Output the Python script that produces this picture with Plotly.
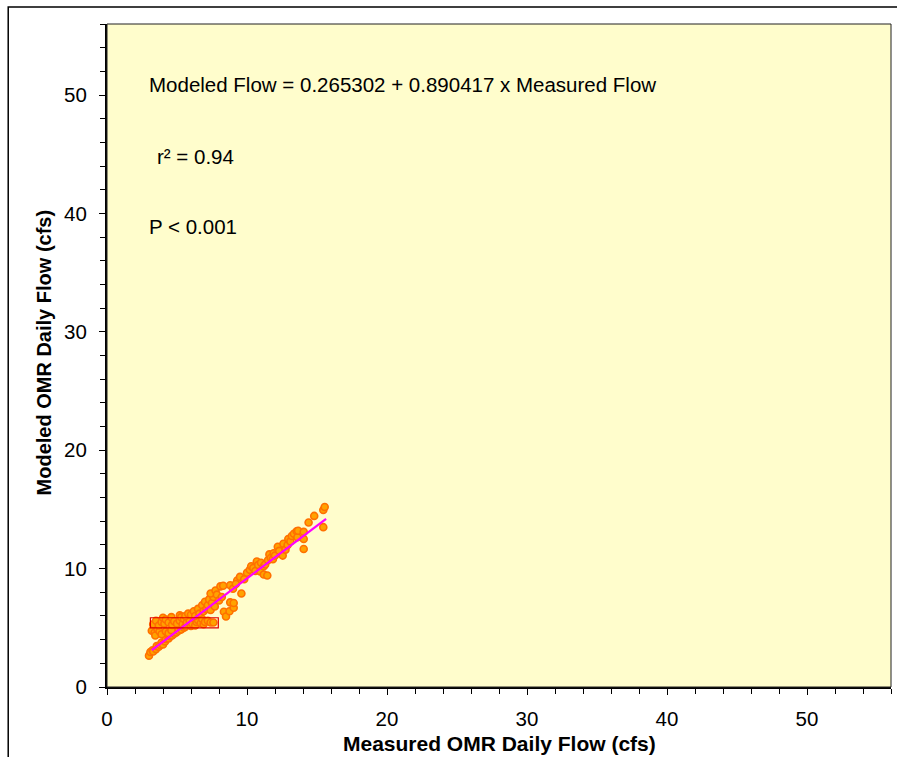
import plotly.graph_objects as go

# Measured vs modeled OMR daily flow (cfs)
measured = [
    3.0, 3.1, 3.25, 3.3, 3.5, 3.55, 3.7, 3.8, 3.9, 4.0, 4.15, 4.2, 4.4, 4.5, 4.65, 4.8, 4.95, 5.1, 5.3, 5.5,
    3.2, 3.4, 3.45, 3.6, 3.75, 3.9, 4.2, 4.4, 4.6,
    3.3, 3.5, 3.7, 3.9, 4.0, 4.1, 4.2, 4.4, 4.6, 4.65, 4.8, 5.0, 5.2, 5.2, 5.3, 5.4, 5.5, 5.6, 5.7, 5.9, 6.0,
    6.1, 6.2, 6.3, 6.4, 6.5, 6.7, 6.8, 6.9, 7.0, 7.2, 7.4, 7.6,
    5.6, 5.8, 6.0, 6.2, 6.3, 6.5, 6.6, 6.8, 6.9, 7.0, 7.1, 7.2, 7.3, 7.4, 7.5, 7.6, 7.7, 7.4, 7.75, 7.85,
    8.0, 8.1, 8.2, 8.3, 8.35, 8.5, 8.75, 8.8, 8.8, 9.05, 9.05, 9.0, 9.3, 9.5, 9.6, 9.2, 9.8,
    10.0, 10.2, 10.3, 10.45, 10.6, 10.7, 10.8, 10.95, 11.0, 11.2, 11.2, 11.3, 11.45, 11.5, 11.6, 11.7, 11.85, 11.9, 12.0,
    12.2, 12.3, 12.55, 12.6, 12.75, 12.9, 12.95, 13.1, 13.2, 13.35, 13.55, 13.6, 13.65, 14.05, 14.05, 14.05, 14.4,
    14.8, 15.45, 15.45, 15.55,
]
modeled = [
    2.65, 2.95, 3.1, 3.0, 3.2, 3.45, 3.4, 3.55, 3.75, 3.6, 3.85, 4.05, 4.1, 4.3, 4.35, 4.5, 4.6, 4.75, 4.85, 5.0,
    4.75, 4.6, 4.35, 4.9, 4.7, 4.45, 4.7, 4.55, 4.8,
    5.3, 5.6, 5.2, 5.5, 5.85, 5.35, 5.7, 5.45, 5.9, 5.25, 5.55, 5.35, 6.05, 5.6, 5.9, 5.3, 5.75, 5.1, 5.45, 5.6, 5.15,
    5.35, 5.8, 5.2, 5.5, 5.65, 5.4, 5.75, 5.3, 5.5, 5.6, 5.45, 5.45,
    6.0, 6.2, 6.1, 6.4, 6.0, 6.6, 6.2, 6.9, 6.4, 7.2, 6.6, 6.9, 7.4, 6.5, 7.1, 7.6, 6.8, 7.9, 8.15, 7.8,
    7.3, 8.5, 7.6, 8.55, 6.35, 5.95, 6.4, 7.15, 8.6, 6.7, 7.1, 8.3, 9.0, 9.3, 7.9, 8.7, 9.1,
    9.65, 9.9, 10.2, 10.05, 9.8, 10.6, 10.3, 9.75, 10.5, 10.2, 9.5, 10.35, 9.42, 10.7, 11.2, 10.9, 10.8, 11.3, 11.1,
    11.85, 11.5, 11.1, 12.1, 11.6, 12.0, 12.5, 12.3, 12.75, 12.95, 13.15, 12.65, 13.2, 13.1, 12.5, 11.65, 13.9,
    14.45, 13.5, 14.95, 15.2,
]

# Regression fit shown on chart
intercept = 0.265302
slope = 0.890417
fit_x = [3.2, 15.65]
fit_y = [intercept + slope * v for v in fit_x]

# Highlight box (data units)
box_x = [3.1, 7.95]
box_y = [5.0, 5.85]

tick_vals = [0, 10, 20, 30, 40, 50]
tick_text = ["0", "10", "20", "30", "40", "50"]

font_family = "Liberation Sans, Arial, sans-serif"

fig = go.Figure()
fig.add_trace(go.Scatter(
    x=measured, y=modeled, mode="markers",
    marker=dict(size=7, color="#FFA200", line=dict(color="#FF7000", width=1.6)),
    showlegend=False, hoverinfo="x+y",
))
fig.add_trace(go.Scatter(
    x=fit_x, y=fit_y, mode="lines",
    line=dict(color="#FF00FF", width=2.2),
    showlegend=False,
))

fig.add_shape(type="rect", xref="x", yref="y",
              x0=box_x[0], x1=box_x[1], y0=box_y[0], y1=box_y[1],
              line=dict(color="#E00000", width=1.2), fillcolor="rgba(0,0,0,0)")

# plot-area frame (top/right)
fig.add_shape(type="rect", xref="x domain", yref="y domain", x0=0, x1=1, y0=0, y1=1,
              line=dict(color="#202020", width=1), layer="above")
# outer figure frame
fig.add_shape(type="rect", xref="paper", yref="paper",
              x0=-0.126, x1=1.2, y0=-0.3, y1=1.0256,
              line=dict(color="black", width=1.5))

ann_font = dict(family=font_family, size=20.5, color="black")
fig.add_annotation(x=2.88, y=50.85, xref="x", yref="y", text="Modeled Flow = 0.265302 + 0.890417 x Measured Flow",
                   showarrow=False, xanchor="left", yanchor="middle", font=ann_font)
fig.add_annotation(x=3.45, y=44.85, xref="x", yref="y", text="r² = 0.94",
                   showarrow=False, xanchor="left", yanchor="middle", font=ann_font)
fig.add_annotation(x=2.88, y=38.9, xref="x", yref="y", text="P < 0.001",
                   showarrow=False, xanchor="left", yanchor="middle", font=ann_font)

# axis titles
fig.add_annotation(x=0.5, y=-0.085, xref="paper", yref="paper",
                   text="<b>Measured OMR Daily Flow (cfs)</b>", showarrow=False,
                   xanchor="center", yanchor="middle",
                   font=dict(family=font_family, size=21, color="black"))
fig.add_annotation(x=-0.08, y=0.505, xref="paper", yref="paper",
                   text="<b>Modeled OMR Daily Flow (cfs)</b>", showarrow=False, textangle=-90,
                   xanchor="center", yanchor="middle",
                   font=dict(family=font_family, size=20, color="black"))

axis_common = dict(
    range=[0, 56], tickvals=tick_vals, ticktext=tick_text,
    ticks="outside", ticklen=6, tickwidth=1, tickcolor="black",
    showline=True, linecolor="black", linewidth=2,
    showgrid=False, zeroline=False,
    tickfont=dict(family=font_family, size=20.5, color="black"),
    minor=dict(dtick=2, tick0=0, ticks="outside", ticklen=5, tickwidth=1, tickcolor="black", showgrid=False),
)

fig.update_layout(
    width=897, height=757,
    margin=dict(l=107, r=6, t=24, b=70),
    paper_bgcolor="white", plot_bgcolor="#FFFDCC",
    xaxis=dict(**axis_common, ticklabelstandoff=6),
    yaxis=dict(**axis_common, ticklabelstandoff=8),
    showlegend=False,
)

fig.write_html("out.html", config={"displayModeBar": False},
               post_script="document.body.style.margin='0';")
